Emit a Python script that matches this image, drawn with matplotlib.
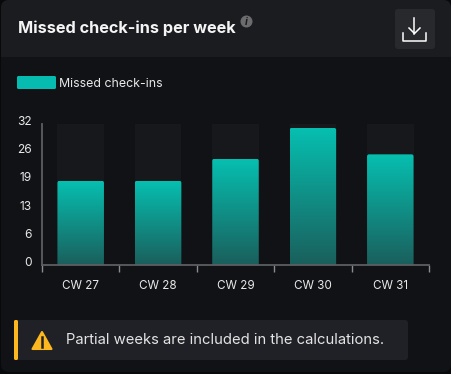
import numpy as np
import matplotlib
matplotlib.use("Agg")
import matplotlib.pyplot as plt
from matplotlib.patches import FancyBboxPatch, Rectangle, Circle, Polygon
from matplotlib.transforms import ScaledTranslation

# data
weeks = ["CW 27", "CW 28", "CW 29", "CW 30", "CW 31"]
missed = [19, 19, 24, 31, 25]
y_max = 32
y_ticks = [0, 6.4, 12.8, 19.2, 25.6, 32]
y_labels = ["0", "6", "13", "19", "26", "32"]
title = "Missed check-ins per week"
legend_label = "Missed check-ins"
note = "Partial weeks are included in the calculations."

plt.rcParams["font.family"] = ["Inter", "DejaVu Sans"]

W, H = 452, 374
fig = plt.figure(figsize=(W / 100, H / 100), dpi=100, facecolor="#08090b")

# page furniture is laid out in pixels
bg = fig.add_axes([0, 0, 1, 1])
bg.set_xlim(0, W)
bg.set_ylim(H, 0)
bg.axis("off")


def rbox(x, y, w, h, r, color, zorder=1):
    p = FancyBboxPatch((x + r, y + r), w - 2 * r, h - 2 * r,
                       boxstyle=f"round,pad={r},rounding_size={r}",
                       fc=color, ec="none", zorder=zorder)
    bg.add_patch(p)
    return p


# card and header
rbox(1, 0, 450, 372, 8, "#101216")
head = rbox(1, 0, 450, 70, 8, "#1a1c20", 2)
head.set_clip_path(Rectangle((0, 0), W, 57, transform=bg.transData))
bg.text(18, 28, title, color="#f4f4f4", fontsize=11.7, fontweight="bold",
        va="center", ha="left", zorder=3)

# info icon
bg.add_patch(Circle((246.5, 21.5), 6, fc="#6c6c6e", ec="none", zorder=3))
bg.text(246.5, 21.5, "i", color="#1a1c20", fontsize=7.5, fontweight="bold",
        style="italic", ha="center", va="center", zorder=4)

# download button
rbox(395, 9, 40, 40, 3, "#27292d", 3)
bg.plot([414.5, 414.5], [18, 33.5], color="white", lw=1.1, zorder=4)
bg.plot([409, 414.5, 420], [28, 33.5, 28], color="white", lw=1.1, zorder=4)
bg.plot([403, 403, 426.5, 426.5], [33, 41, 41, 33], color="white", lw=1.1, zorder=4)

# legend
rbox(17, 76, 39, 13, 1.5, "#06bcb0", 3)
bg.text(59, 83.5, legend_label, color="#e8e8e8", fontsize=8.9, va="center", ha="left", zorder=3)

# warning note
rbox(14, 320, 394, 40, 3, "#1f2126", 2)
rbox(14, 320, 4, 40, 1.5, "#fdb71f", 3)
bg.add_patch(Polygon([[42, 332], [51.5, 349], [32.5, 349]], closed=True, fc="#fdb71f",
                     ec="#fdb71f", lw=1.5, joinstyle="round", zorder=3))
bg.plot([42, 42], [336.5, 343], color="#1f2126", lw=1.8, zorder=4)
bg.plot([42, 42], [345, 346.8], color="#1f2126", lw=1.8, zorder=4)
bg.text(66, 340, note, color="#e4e4e4", fontsize=10.67, va="center", ha="left", zorder=3)

# chart
left, right, top, base = 42, 429, 123.5, 264.5
ax = fig.add_axes([left / W, 1 - base / H, (right - left) / W, (base - top) / H])
ax.patch.set_alpha(0)
x = np.arange(len(weeks))
bar_w = 46.5 / 77.4

ax.bar(x, [y_max] * len(x), width=bar_w, color="#16181b", zorder=1)

grad = np.linspace(0, 1, 256).reshape(-1, 1)
cmap = matplotlib.colors.LinearSegmentedColormap.from_list("g", ["#06bfb0", "#1a5f5c"])
px_x = (right - left) / len(weeks)
px_y = (base - top) / y_max
for xi, v in zip(x, missed):
    r = 2 / px_x
    clip = FancyBboxPatch((xi - bar_w / 2 + r, -5), bar_w - 2 * r, v + 5 - 2 / px_y,
                          boxstyle=f"round,pad={r},rounding_size={r}",
                          mutation_aspect=px_x / px_y,
                          transform=ax.transData, fc="none", ec="none")
    ax.add_patch(clip)
    im = ax.imshow(grad, extent=(xi - bar_w / 2, xi + bar_w / 2, 0, v), cmap=cmap,
                   aspect="auto", zorder=2, origin="upper")
    im.set_clip_path(clip)
ax.set_xlim(-0.5, len(weeks) - 0.5)
ax.set_ylim(0, y_max)

for s in ["top", "right"]:
    ax.spines[s].set_visible(False)
for s in ["left", "bottom"]:
    ax.spines[s].set_color("#5c5e62")
    ax.spines[s].set_linewidth(1.3)

ax.set_yticks(y_ticks)
ax.set_yticklabels(y_labels, color="#e8e8e8", fontsize=8.6)
ax.tick_params(axis="y", length=0, pad=7.5)
up = ScaledTranslation(0, 1.5 / 100, fig.dpi_scale_trans)
for lab in ax.get_yticklabels():
    lab.set_verticalalignment("center")
    lab.set_transform(lab.get_transform() + up)

ax.set_xticks(np.arange(len(weeks) + 1) - 0.5)
ax.set_xticklabels([])
ax.tick_params(axis="x", length=5, width=1, color="#8a8c90")
ax.set_xticks(x, minor=True)
ax.set_xticklabels(weeks, minor=True, color="#e8e8e8", fontsize=8.4)
ax.tick_params(axis="x", which="minor", length=0, pad=11)

fig.savefig("out.png", dpi=100, facecolor=fig.get_facecolor())
